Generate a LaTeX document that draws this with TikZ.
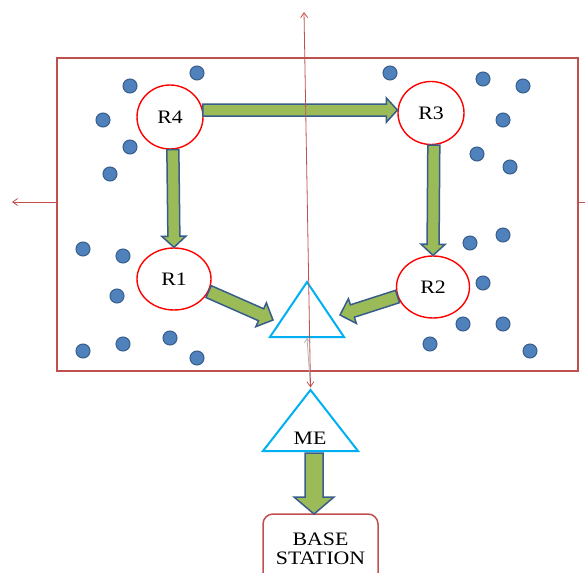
\documentclass[tikz,border=0pt]{standalone}
\usepackage{fontspec}
\setmainfont{Liberation Serif}[FakeStretch=1.15]
\usetikzlibrary{calc,arrows.meta,positioning,shapes.geometric}
\definecolor{boxred}{RGB}{192,80,77}
\definecolor{ringred}{RGB}{255,0,0}
\definecolor{tricyan}{RGB}{0,176,240}
\definecolor{arrgreen}{RGB}{155,187,89}
\definecolor{arrblue}{RGB}{56,93,138}
\definecolor{dotblue}{RGB}{79,129,189}
\tikzset{
  relay/.style={ellipse, draw=ringred, fill=white, line width=1.4pt,
                inner sep=0pt, font=\fontsize{19}{19}\selectfont},
  sensor/.style={circle, draw=arrblue, fill=dotblue, line width=1pt,
                 minimum size=14pt, inner sep=0pt},
  agent/.style={isosceles triangle, isosceles triangle stretches,
                shape border rotate=90, draw=tricyan, line width=2pt,
                inner sep=0pt, anchor=south},
  barrow/.style={draw=arrblue, fill=arrgreen, line width=1.5pt, line join=miter},
  trace/.style={boxred, line width=0.8pt},
  barb/.tip={Straight Barb[length=5pt, width=7pt]},
  station/.style={rectangle, rounded corners=10pt, draw=boxred, line width=1.5pt,
                  minimum width=115pt, minimum height=70pt, align=center,
                  font=\fontsize{19}{19}\selectfont},
}
% block arrow: from, to, half shaft, half head, head length
\newcommand{\blockarrow}[5]{%
  \coordinate (ba-n) at ($(#2)!#5!(#1)$);
  \draw[barrow] ($(#1)!#3!90:(#2)$) -- ($(ba-n)!#3!90:(#2)$)
    -- ($(ba-n)!#4!90:(#2)$) -- (#2) -- ($(ba-n)!#4!-90:(#2)$)
    -- ($(ba-n)!#3!-90:(#2)$) -- ($(#1)!#3!-90:(#2)$) -- cycle;}

\begin{document}
\begin{tikzpicture}[x=1pt, y=-1pt]
  \useasboundingbox (0,0) rectangle (585,572);

  % ---- cross lines behind the field ---------------------------------------
  \coordinate (hl) at (12,202);
  \coordinate (hr) at (586,202);
  \draw[trace, -{barb}] (hr) -- (hl);

  \node[draw=boxred, fill=white, line width=2pt, inner sep=0pt,
        minimum width=521pt, minimum height=313pt] (field) at (317.5,214.5) {};

  % ---- sensor nodes -------------------------------------------------------
  \foreach \p [count=\i] in {(197,73),(130,86),(103,120),(130,147),(110,174),
      (83,249),(123,256),(117,296),(83,351),(123,344),(170,338),(197,358),
      (390,73),(483,79),(523,86),(503,120),(477,154),(510,167),
      (470,243),(503,235),(483,283),(463,324),(503,324),(430,344),(530,351)}
    \node[sensor] (s\i) at \p {};

  % ---- relays ---------------------------------------------------------------
  \node[relay, minimum width=66pt, minimum height=64pt] (R4) at (170,117) {R4};
  \node[relay, minimum width=66pt, minimum height=63pt] (R3) at (431,113) {R3};
  \node[relay, minimum width=74pt, minimum height=62pt] (R1) at (174,279) {R1};
  \node[relay, minimum width=73pt, minimum height=62pt] (R2) at (433,287) {R2};

  % ---- mobile element and its target ----------------------------------------
  \node[agent, minimum width=74pt, minimum height=55pt] (T) at (307,338) {};
  \node[agent, minimum width=95pt, minimum height=61pt] (ME) at (310.5,452) {};
  \node[font=\fontsize{19}{19}\selectfont] (melabel) at (310,438) {ME};
  \node[station] (BS) at (320.5,549) {BASE\\STATION};

  \coordinate (t1) at (273,320);
  \coordinate (t2) at (340,315);
  \coordinate (bstop) at (314,514);
  \coordinate (metop) at (314,453);

  % ---- data flow ----------------------------------------------------------
  \blockarrow{R4.12}{R3.175}{6pt}{12pt}{11pt}
  \blockarrow{R4.-85}{R1.north}{6pt}{12pt}{11pt}
  \blockarrow{R3.-85}{R2.north}{6pt}{12pt}{11pt}
  \blockarrow{R1.-20}{t1}{6.5pt}{13pt}{13pt}
  \blockarrow{R2.195}{t2}{6.5pt}{13pt}{13pt}
  \blockarrow{metop}{bstop}{9pt}{20pt}{17pt}

  % ---- movement -------------------------------------------------------------
  \coordinate (vt) at (304,12);
  \draw[gray!60, line width=0.8pt, -{Straight Barb[length=4pt, width=6pt]}]
    (ME.apex) -- (T.south);
  \draw[trace, {barb}-{barb}] (vt) -- (ME.apex);
\end{tikzpicture}
\end{document}
